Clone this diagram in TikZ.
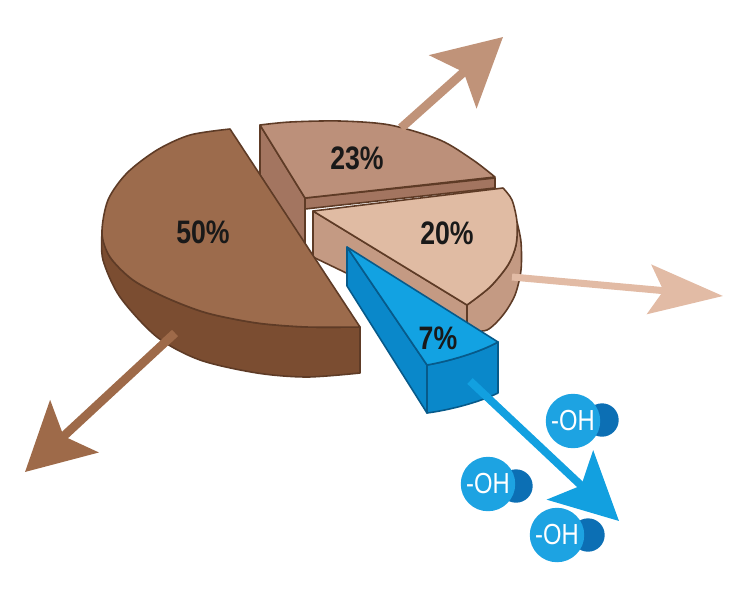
\documentclass[tikz,border=0pt]{standalone}
\usepackage{fontspec}
\usepackage{tikz}
\usetikzlibrary{arrows.meta}
\newfontfamily\pctfont[FakeStretch=0.82]{Liberation Sans}
\definecolor{brdark}{HTML}{5E3B26}
\definecolor{top50}{HTML}{9C6B4C}
\definecolor{side50}{HTML}{7B4D31}
\definecolor{top23}{HTML}{BC907A}
\definecolor{side23}{HTML}{A37560}
\definecolor{top20}{HTML}{E0BBA3}
\definecolor{side20}{HTML}{C49A83}
\definecolor{top7}{HTML}{12A2E2}
\definecolor{side7}{HTML}{0A88CA}
\definecolor{bldark}{HTML}{075A8A}
\definecolor{ohlight}{HTML}{1DA3E2}
\definecolor{ohdeep}{HTML}{0C6FB4}
\definecolor{arr23}{HTML}{C09379}
\definecolor{arr20}{HTML}{E2BBA5}
\definecolor{arr50}{HTML}{9E6A49}
\definecolor{arr7}{HTML}{12A0E0}
\tikzstyle{face}=[draw=brdark,line width=0.9pt,line join=round]
\tikzstyle{bface}=[draw=bldark,line width=0.9pt,line join=round]
\tikzstyle{pct}=[font=\pctfont\bfseries\fontsize{18.5}{18.5}\selectfont,text=black!90,inner sep=1pt]
\tikzstyle{ohball}=[circle,fill=ohlight,minimum size=31pt,inner sep=0pt,text=white,font=\pctfont\fontsize{16.5}{16.5}\selectfont]
\tikzstyle{ohback}=[circle,fill=ohdeep,minimum size=19pt,inner sep=0pt]
\tikzstyle{flow}=[line width=5pt,-{Stealth[length=38pt,width=40pt,inset=8pt]}]

\begin{document}
\begin{tikzpicture}[x=0.02cm,y=-0.02cm]
\useasboundingbox (0,0) rectangle (750,600);
% 23% slice
\filldraw[face,fill=side23] (260,125) -- (305,198) -- (305,245) -- (260,175) -- cycle;
\filldraw[face,fill=side23] (305,198) -- (495,178) -- (495,188) -- (305,209) -- cycle;
\filldraw[face,fill=top23] (305,198) -- (260,125) -- plot[smooth] coordinates {(260,125) (290,122) (340,121) (390,125) (440,140) (473,160) (495,177)} -- cycle;
% 20% slice
\filldraw[face,fill=side20] (313,211) -- (467,305) -- (467,331) -- (313,257) -- cycle;
\filldraw[face,fill=side20] plot[smooth] coordinates {(517,222) (516,245) (508,265) (490,287) (467,305)} -- (467,331) -- plot[smooth] coordinates {(467,331) (487,330) (503,315) (515,295) (521,270) (521,242) (517,222)} -- cycle;
\filldraw[face,fill=top20] (313,211) -- (503,188) -- plot[smooth] coordinates {(503,188) (512,200) (517,222) (516,245) (508,265) (490,287) (467,305)} -- cycle;
% 50% slice
\filldraw[face,fill=side50] plot[smooth] coordinates {(102,233) (110,257) (133,280) (167,298) (207,313) (257,323) (307,327) (360,327)} -- (360,373) -- plot[smooth] coordinates {(360,373) (307,377) (257,373) (200,360) (157,337) (120,297) (103,260) (102,233)} -- cycle;
\filldraw[face,fill=top50] (360,327) -- (230,129) -- plot[smooth] coordinates {(230,129) (190,135) (157,150) (127,173) (108,200) (102,233) (110,257) (133,280) (167,298) (207,313) (257,323) (307,327) (360,327)} -- cycle;
% 7% slice
\filldraw[bface,fill=side7] (347,247) -- (427,365) -- (427,413) -- (347,286) -- cycle;
\filldraw[bface,fill=side7] (427,365) .. controls (450,361) and (480,352) .. (498,342) -- (498,393) .. controls (480,402) and (450,410) .. (427,413) -- cycle;
\filldraw[bface,fill=top7] (347,247) -- (498,342) .. controls (480,352) and (450,361) .. (427,365) -- cycle;
% labels
\node[pct] (p50) at (203,232) {50\%};
\node[pct] (p23) at (357,158) {23\%};
\node[pct] (p20) at (447,233) {20\%};
\node[pct] (p7) at (438,338) {7\%};
% arrows
\coordinate (s23) at (401,128); \coordinate (e23) at (503,37);
\coordinate (s20) at (512,277); \coordinate (e20) at (723,296);
\coordinate (s50) at (175,333); \coordinate (e50) at (25,472);
\coordinate (s7) at (470,381); \coordinate (e7) at (619,521);
\draw[flow,arr23] (s23) -- (e23);
\draw[flow,arr20,line width=4pt,-{Stealth[length=42pt,width=28pt,inset=8pt]}] (s20) -- (e20);
\draw[flow,arr50] (s50) -- (e50);
\draw[flow,arr7,line width=4.5pt,-{Stealth[length=38pt,width=38pt,inset=8.5pt]}] (s7) -- (e7);
% -OH groups
\node[ohback] (ohb1) at (602,420) {};
\node[ohball] (oh1) at (573,421) {-OH};
\node[ohback] (ohb2) at (516,486) {};
\node[ohball] (oh2) at (488,484) {-OH};
\node[ohback] (ohb3) at (588,535) {};
\node[ohball] (oh3) at (557,535) {-OH};
\end{tikzpicture}
\end{document}
